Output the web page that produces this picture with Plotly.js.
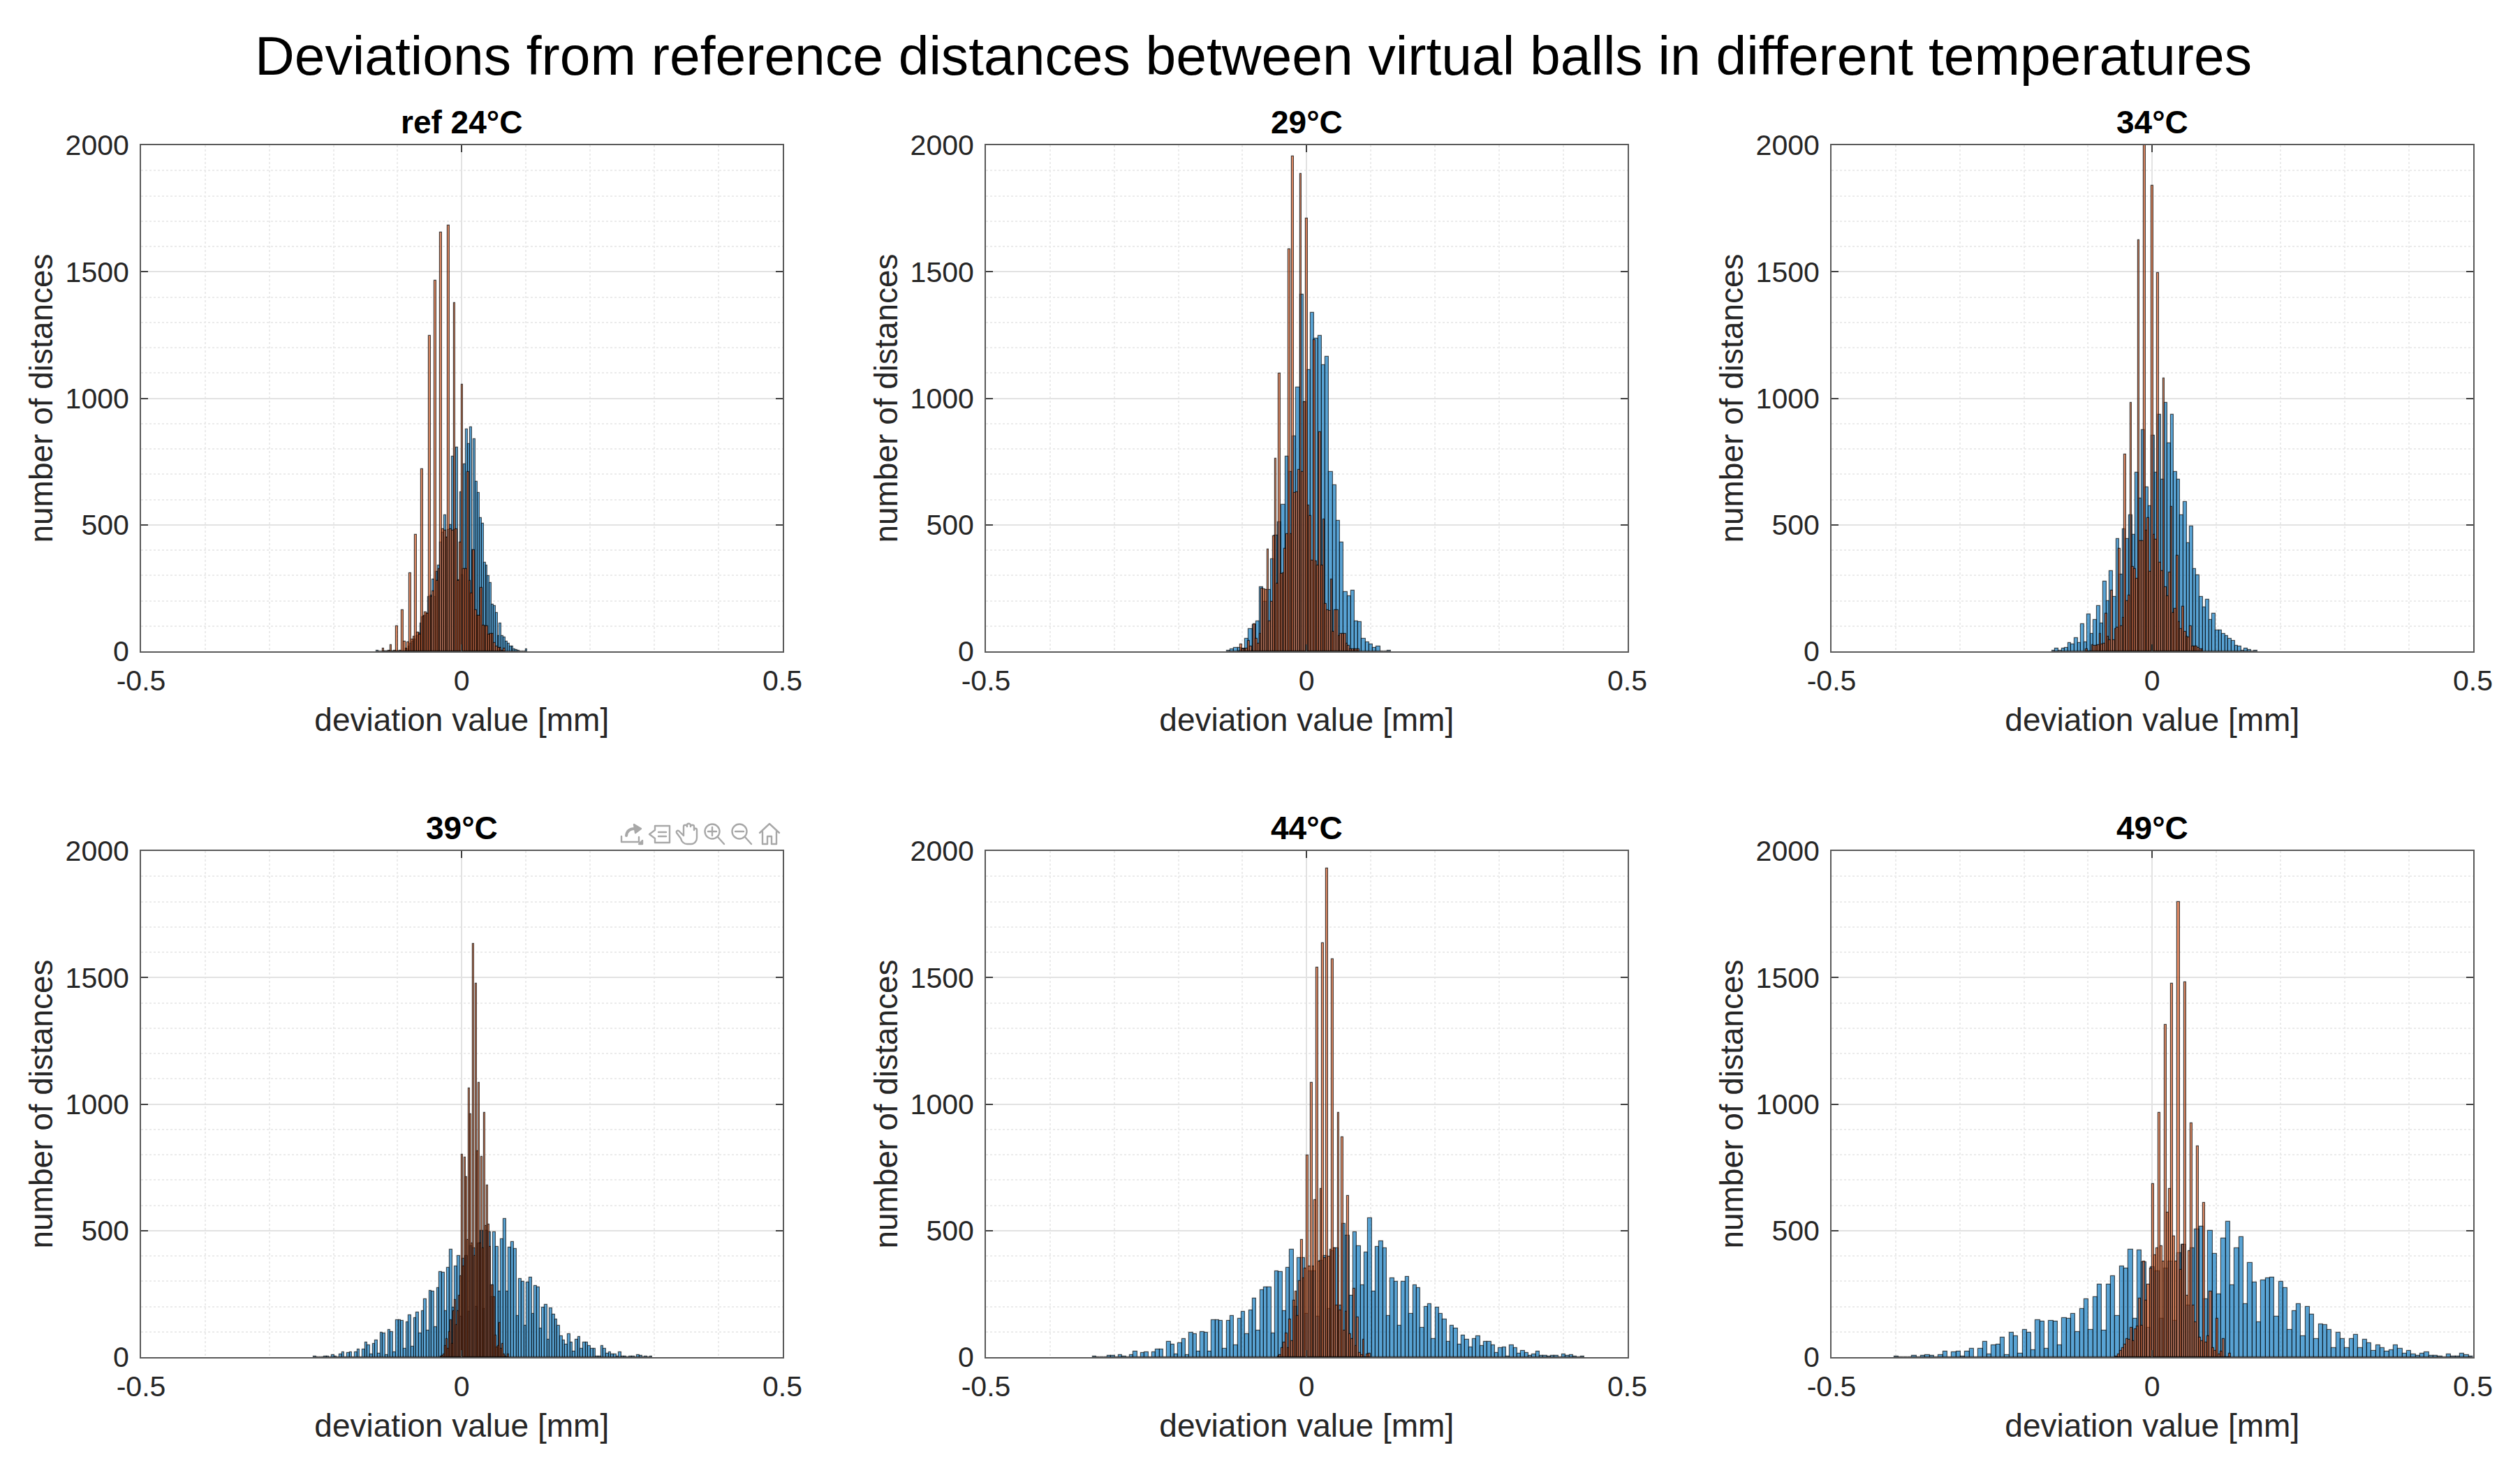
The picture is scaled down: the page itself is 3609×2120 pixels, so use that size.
<!DOCTYPE html>
<html><head><meta charset="utf-8">
<script src="https://cdn.plot.ly/plotly-3.0.1.min.js"></script>
<style>html,body{margin:0;padding:0;background:#fff}#chart{width:3609px;height:2120px}</style>
</head><body><div id="chart"></div>
<script>
const panelTitles = ['ref 24°C','29°C','34°C','39°C','44°C','49°C'];
const xTickVals = [-0.5,0,0.5];
const xTickText = ['-0.5','0','0.5'];
const yTickVals = [0,500,1000,1500,2000];
const yTickText = ['0','500','1000','1500','2000'];

const blueStart = [-0.1316,-0.1215,-0.1537,-0.2288,-0.331,-0.3986];
const blueStep  = [0.0031,0.00569,0.005,0.004,0.00581,0.00689];
const orangeStart = [-0.1222,-0.1051,-0.1019,-0.0323,-0.0438,-0.0558];
const orangeStep  = [0.003,0.003,0.003,0.00218,0.00302,0.00334];

const blue24 = [3,0,0,0,0,0,0,0,0,0,0,0,0,0,1,8,20,30,40,48,60,73,110,136,141,150,215,221,284,215,315,340,430,470,539,450,480,500,771,480,806,281,628,300,740,877,819,886,400,840,670,627,527,505,350,340,297,271,185,179,151,60,110,60,56,40,29,18,18,7,5,4,1,0,0,7];
const orange24 = [12,0,0,2,25,0,2,99,1,4,163,38,11,36,310,48,59,462,75,66,719,138,155,148,1248,216,237,1465,278,326,1655,484,477,449,1684,484,477,1377,484,278,430,1055,326,326,710,278,230,399,164,141,141,251,103,100,100,66,69,69,32,18,14,14,4,11];

const blue29 = [3,9,15,15,12,50,87,105,118,253,195,244,365,457,511,578,771,708,850,1042,1411,985,1111,1339,1235,1246,1132,1165,710,656,515,430,234,219,239,120,116,50,37,27,15,20,1,1,3];
const orange29 = [1,27,7,7,11,42,18,4,108,50,30,69,248,245,243,402,120,195,456,762,267,1097,307,309,406,464,1590,464,1955,626,629,717,1887,708,985,1709,577,536,358,1231,356,340,867,340,522,187,162,160,284,78,164,164,62,68,68,68,31,22,8,8,8,8,8];

const blue34 = [3,12,3,12,15,34,28,53,34,107,37,145,70,124,179,111,277,198,318,214,445,304,482,445,538,461,705,603,875,649,575,852,705,936,680,982,823,936,708,678,537,590,427,494,326,302,214,173,204,124,150,83,83,70,61,50,42,23,20,4,12,5,1,3];
const orange34 = [7,1,1,24,22,22,24,68,27,31,150,58,45,241,45,89,95,406,99,133,778,200,220,982,335,326,288,1625,437,437,2000,477,527,315,1841,461,441,1496,349,318,1078,254,218,311,570,153,169,379,116,89,177,76,58,54,99,20,18,20,14,7,7];

const blue39 = [3,0,0,0,4,4,0,7,4,0,10,19,1,16,19,1,19,29,1,29,59,48,11,52,67,14,97,93,8,107,100,19,147,147,144,33,138,166,41,155,177,93,182,230,104,263,258,118,273,336,334,182,353,425,196,360,400,160,390,400,180,440,430,200,450,500,190,500,495,236,493,436,258,466,547,258,433,455,427,162,310,299,123,296,315,171,281,275,114,196,208,70,192,168,148,123,84,66,51,90,59,22,70,81,34,59,59,45,32,34,4,4,45,32,15,18,11,11,3,18,4,4,1,4,4,1,8,5,1,3,1,3];
const orange39 = [3,5,11,45,73,32,100,145,52,182,226,127,182,244,319,799,360,789,712,463,1063,959,449,1632,401,1476,815,1085,449,792,429,966,520,678,525,436,285,285,237,86,38,45,134,32,52,11,4,0,11];

const blue44 = [3,0,0,0,5,5,0,8,4,0,8,21,1,17,20,1,20,29,29,1,61,51,11,55,71,8,97,91,21,100,97,21,147,147,144,33,144,163,47,151,178,91,184,231,104,264,276,276,95,339,336,182,354,426,200,391,391,170,340,340,160,380,400,190,420,429,204,527,480,244,493,440,284,414,549,258,435,457,429,162,311,299,124,299,316,171,284,274,115,198,210,71,195,170,148,61,123,112,51,85,68,40,73,83,44,61,61,48,17,35,40,4,48,35,15,24,16,5,11,21,5,5,3,5,5,1,11,5,8,3,0,3];
const orange44 = [4,7,37,57,95,37,148,64,224,258,164,300,463,311,351,798,358,1083,358,621,1538,378,665,1635,391,1930,398,424,1572,429,204,965,184,868,104,178,637,91,71,271,44,158,17,7,68,0,11,15];

const blue49 = [3,0,0,0,5,0,5,8,5,1,8,21,1,19,21,3,21,33,1,33,61,11,48,51,76,8,97,83,15,108,97,28,147,140,33,144,140,48,155,151,170,100,191,228,108,238,287,104,287,320,164,358,351,426,151,423,375,117,356,340,151,351,378,144,410,445,204,429,505,515,228,500,407,247,469,535,284,429,474,210,372,295,138,304,311,314,160,298,274,108,183,211,84,199,168,71,131,127,108,35,96,71,37,71,88,37,69,56,24,47,37,21,28,47,32,15,24,11,5,15,20,5,5,3,0,11,3,3,13,8,3];
const orange49 = [4,11,24,37,51,71,68,117,64,111,121,231,124,378,224,287,351,685,402,431,965,438,378,1312,571,665,1476,478,378,1800,344,445,1482,244,418,925,204,137,834,77,64,611,57,84,260,37,24,151,11,21,71,1,1,15];

const blueSeries = [blue24,blue29,blue34,blue39,blue44,blue49];
const orangeSeries = [orange24,orange29,orange34,orange39,orange44,orange49];

const W=3609,H=2120;
const colLeft=[202,1412,2623], rowTop=[208,1219], pw=918.5, ph=725;
const FONT='"Liberation Sans", Arial, sans-serif';
const blueFill='rgba(0,114,189,0.65)', orangeFill='rgba(217,83,25,0.65)', edge='rgba(0,0,0,0.65)', edgeO='rgba(0,0,0,0.7)';

const toolbarSvg = `<svg xmlns="http://www.w3.org/2000/svg" width="235" height="36" viewBox="0 0 235 36"><g fill="none" stroke="#a8a8a8" stroke-width="2.4" stroke-linejoin="round" stroke-linecap="round"><path d="M5 22V30H30V23"/><path d="M12 21C13 13 18 11 24 11" stroke-width="4"/><path d="M23 5L33 11L25 17Z" fill="#a8a8a8"/><path d="M30 33L35 33L35 28Z" fill="#a8a8a8"/><path d="M53 7H74V31H53V25L45 19L53 13Z"/><path d="M58 16H69M58 22H69"/><path d="M84 17L90 25C91 30 95 33 99 33H105C110 33 113 28 113 24V13C113 10 109 10 109 13V8C109 5 104 5 104 8V6C104 3 99 3 99 6V8C99 5 94 5 94 8V21L87 14C85 13 83 15 84 17Z"/><circle cx="135" cy="15" r="10.5"/><path d="M143 23L152 33M129 15H141M135 9V21"/><circle cx="174" cy="15" r="10.5"/><path d="M182 23L191 33M168 15H180"/><path d="M203 17L217 4L231 17M207 15V33H214V22H220V33H227V15"/></g></svg>`;

const layout={width:W,height:H,margin:{l:0,r:0,t:0,b:0},paper_bgcolor:'#fff',plot_bgcolor:'#fff',
  barmode:'overlay',bargap:0,showlegend:false,font:{family:FONT,color:'#262626',size:41},
  annotations:[{text:'Deviations from reference distances between virtual balls in different temperatures',
    x:1795/W,y:1-80/H,xref:'paper',yref:'paper',xanchor:'center',yanchor:'middle',showarrow:false,
    font:{family:FONT,size:78.6,color:'#000'}}],
  images:[{source:'data:image/svg+xml;utf8,'+encodeURIComponent(toolbarSvg),xref:'paper',yref:'paper',
    x:885/W,y:1-1176/H,sizex:235/W,sizey:36/H,xanchor:'left',yanchor:'top',sizing:'stretch',layer:'above'}]};
const traces=[];
panelTitles.forEach((t,k)=>{
  const c=k%3,r=Math.floor(k/3),s=k?String(k+1):'';
  const l=colLeft[c],top=rowTop[r];
  const common={showline:true,linecolor:'#5a5a5a',linewidth:2,mirror:'ticks',ticks:'inside',ticklen:10,tickwidth:2,tickcolor:'#404040',
    gridcolor:'#e2e2e2',gridwidth:2,zeroline:false,tickfont:{family:FONT,size:41,color:'#262626'},automargin:false};
  layout['xaxis'+s]=Object.assign({},common,{domain:[l/W,(l+pw)/W],range:[-0.5,0.5],anchor:'y'+s,tickmode:'array',tickvals:xTickVals,ticktext:xTickText,
    ticklabelstandoff:5,
    title:{text:'deviation value [mm]',font:{family:FONT,size:46,color:'#262626'},standoff:18},
    minor:{dtick:0.1,tick0:0,showgrid:true,griddash:'dot',gridcolor:'#ebebeb',gridwidth:1.5,ticks:''}});
  layout['yaxis'+s]=Object.assign({},common,{domain:[1-(top+ph)/H,1-top/H],range:[0,2000],anchor:'x'+s,tickmode:'array',tickvals:yTickVals,ticktext:yTickText,
    ticklabelstandoff:7,
    title:{text:'number of distances',font:{family:FONT,size:46,color:'#262626'},standoff:3},
    minor:{dtick:100,tick0:0,showgrid:true,griddash:'dot',gridcolor:'#ebebeb',gridwidth:1.5,ticks:''}});
  layout.annotations.push({text:'<b>'+t+'</b>',x:(l+pw/2)/W,y:1-175/H-(r?1011/H:0),xref:'paper',yref:'paper',xanchor:'center',yanchor:'middle',showarrow:false,
    font:{family:FONT,size:46,color:'#000'}});
  const mk=(vals,start,step,fill,lc,lw)=>({type:'bar',xaxis:'x'+s,yaxis:'y'+s,x:vals.map((_,i)=>start+i*step),y:vals,width:step,
    marker:{color:fill,line:{color:lc,width:lw}},hoverinfo:'skip'});
  traces.push(mk(blueSeries[k],blueStart[k],blueStep[k],blueFill,edge,1.2));
  traces.push(mk(orangeSeries[k],orangeStart[k],orangeStep[k],orangeFill,edgeO,1.2));
});
Plotly.newPlot('chart',traces,layout,{displayModeBar:false,responsive:false});
</script></body></html>
